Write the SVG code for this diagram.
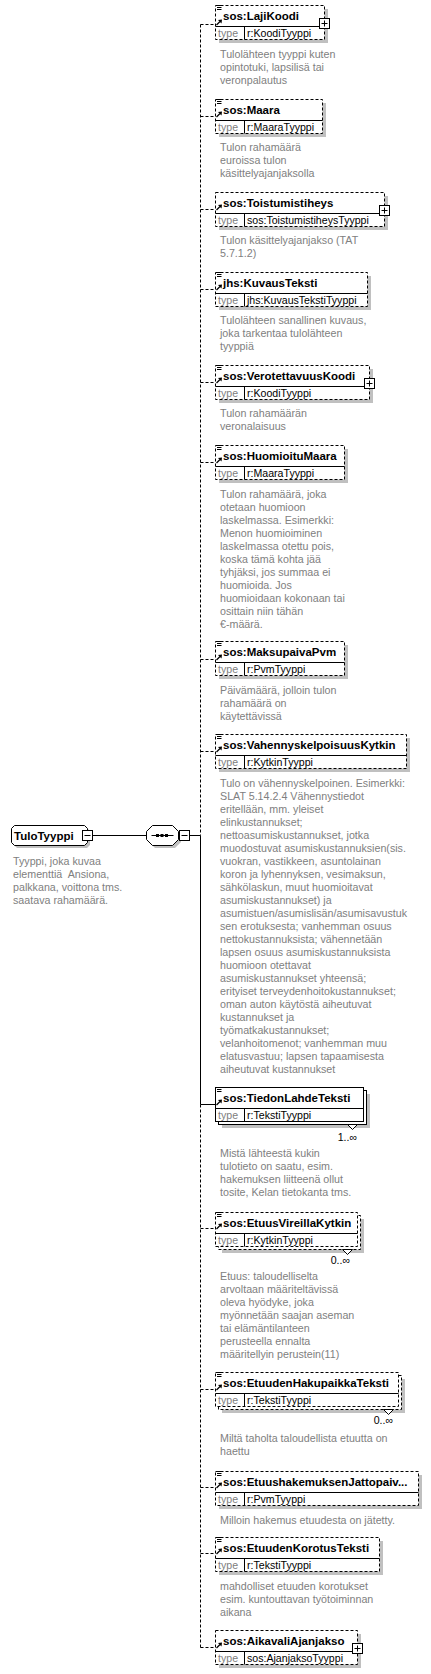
<svg xmlns="http://www.w3.org/2000/svg" width="431" height="1674" viewBox="0 0 431 1674">
<defs>
<style>
.bx{fill:#fff;stroke:#000;stroke-width:1}
.dsh{stroke-dasharray:3 2}
.sh{fill:#c0c0c0}
.ln{fill:none;stroke:#000;stroke-width:1}
.hd{font-family:"Liberation Sans",Arial,sans-serif;font-size:11.5px;font-weight:bold;fill:#000}
.tl{font-family:"Liberation Sans",Arial,sans-serif;font-size:10.6px;fill:#808080}
.tv{font-family:"Liberation Sans",Arial,sans-serif;font-size:10.6px;fill:#000}
.ds{font-family:"Liberation Sans",Arial,sans-serif;font-size:10.7px;fill:#808080}
.ml{font-family:"Liberation Sans",Arial,sans-serif;font-size:10.6px;fill:#000;text-anchor:end}
</style>
<g id="eq"><path d="M2,0.5h4.5M2,2.5h4.5M2,4.5h4.5" stroke="#000" stroke-width="1" fill="none"/></g>
<g id="arr"><path d="M1.5,0.5L5,-3" stroke="#000" stroke-width="1.2" fill="none"/><polygon points="7,-5 3,-4.5 6.5,-1" fill="#000"/></g>
</defs>
<rect width="431" height="1674" fill="#fff"/>

<g id="connectors">
<path class="ln dsh" d="M200.5,24.5V835.5"/>
<path class="ln" d="M200.5,835.5V1104.5"/>
<path class="ln dsh" d="M200.5,1104.5V1647.5"/>
<path class="ln" d="M92.5,835.5H146.5M189.5,835.5H200.5"/>
<path class="ln dsh" d="M200.5,24.5H215M200.5,116.5H215M200.5,209.5H215M200.5,289.5H215M200.5,382.5H215M200.5,462.5H215M200.5,659.5H215M200.5,751.5H215M200.5,1228.5H215M200.5,1389.5H215M200.5,1487.5H215M200.5,1553.5H215M200.5,1647.5H215"/>
<path class="ln" d="M200.5,1104.5H215"/>
</g>

<g id="TuloTyyppi">
<path class="sh" d="M17,828H87L90,831V845L87,848H17L14,845V831Z"/>
<path class="bx" d="M14.5,825.5H84.5L87.5,828.5V842.5L84.5,845.5H14.5L11.5,842.5V828.5Z"/>
<text class="hd" x="14" y="839.5">TuloTyyppi</text>
<rect class="bx" x="82.5" y="830.5" width="10" height="10"/>
<path class="ln" d="M84.5,835.5H90.5"/>
<text class="ds" x="13" y="865" style="white-space:pre"><tspan x="13" y="865">Tyyppi, joka kuvaa</tspan><tspan x="13" y="878">elementtiä  Ansiona,</tspan><tspan x="13" y="891">palkkana, voittona tms.</tspan><tspan x="13" y="904">saatava rahamäärä.</tspan></text>
</g>

<g id="sequence">
<path class="sh" d="M155,828H175L181,834V842L175,848H155L149,842V834Z"/>
<path class="bx" d="M152.5,825.5H172.5L178.5,831.5V839.5L172.5,845.5H152.5L146.5,839.5V831.5Z"/>
<path class="ln" d="M151.5,835.5H173.5"/>
<rect x="156" y="834" width="3" height="3" fill="#000"/>
<rect x="160.5" y="834" width="3" height="3" fill="#000"/>
<rect x="165" y="834" width="3" height="3" fill="#000"/>
<rect class="bx" x="179.5" y="830.5" width="10" height="10"/>
<path class="ln" d="M181.5,835.5H187.5"/>
</g>

<g id="LajiKoodi" transform="translate(215,5)">
<rect class="sh" x="4" y="4" width="109" height="34"/>
<rect class="bx dsh" x="0.5" y="0.5" width="109" height="34"/>
<path class="ln" d="M0.5,21.5H109.5M29.5,21.5V34.5"/>
<use href="#eq"/><use href="#arr" x="0" y="19.5"/>
<text class="hd" x="8" y="14.5">sos:LajiKoodi</text>
<text class="tl" x="3" y="31.5">type</text><text class="tv" x="32" y="31.5">r:KoodiTyyppi</text>
<rect class="bx" x="104.5" y="13.5" width="10" height="10"/><path class="ln" d="M106.5,18.5H112.5M109.5,15.5V21.5"/>
<text class="ds"><tspan x="5" y="53">Tulolähteen tyyppi kuten</tspan><tspan x="5" y="66">opintotuki, lapsilisä tai</tspan><tspan x="5" y="79">veronpalautus</tspan></text>
</g>

<g id="Maara" transform="translate(215,99)">
<rect class="sh" x="4" y="4" width="107" height="34"/>
<rect class="bx dsh" x="0.5" y="0.5" width="107" height="34"/>
<path class="ln" d="M0.5,21.5H107.5M29.5,21.5V34.5"/>
<use href="#eq"/><use href="#arr" x="0" y="17.5"/>
<text class="hd" x="8" y="14.5">sos:Maara</text>
<text class="tl" x="3" y="31.5">type</text><text class="tv" x="32" y="31.5">r:MaaraTyyppi</text>
<text class="ds"><tspan x="5" y="52">Tulon rahamäärä</tspan><tspan x="5" y="65">euroissa tulon</tspan><tspan x="5" y="78">käsittelyajanjaksolla</tspan></text>
</g>

<g id="Toistumistiheys" transform="translate(215,192)">
<rect class="sh" x="4" y="4" width="169" height="34"/>
<rect class="bx dsh" x="0.5" y="0.5" width="169" height="34"/>
<path class="ln" d="M0.5,21.5H169.5M29.5,21.5V34.5"/>
<use href="#arr" x="0" y="17.5"/>
<text class="hd" x="8" y="14.5">sos:Toistumistiheys</text>
<text class="tl" x="3" y="31.5">type</text><text class="tv" x="32" y="31.5">sos:ToistumistiheysTyyppi</text>
<rect class="bx" x="164.5" y="13.5" width="10" height="10"/><path class="ln" d="M166.5,18.5H172.5M169.5,15.5V21.5"/>
<text class="ds"><tspan x="5" y="52">Tulon käsittelyajanjakso (TAT</tspan><tspan x="5" y="65">5.7.1.2)</tspan></text>
</g>

<g id="KuvausTeksti" transform="translate(215,272)">
<rect class="sh" x="4" y="4" width="152" height="34"/>
<rect class="bx dsh" x="0.5" y="0.5" width="152" height="34"/>
<path class="ln" d="M0.5,21.5H152.5M29.5,21.5V34.5"/>
<use href="#eq"/><use href="#arr" x="0" y="17.5"/>
<text class="hd" x="8" y="14.5">jhs:KuvausTeksti</text>
<text class="tl" x="3" y="31.5">type</text><text class="tv" x="32" y="31.5">jhs:KuvausTekstiTyyppi</text>
<text class="ds"><tspan x="5" y="52">Tulolähteen sanallinen kuvaus,</tspan><tspan x="5" y="65">joka tarkentaa tulolähteen</tspan><tspan x="5" y="78">tyyppiä</tspan></text>
</g>

<g id="VerotettavuusKoodi" transform="translate(215,365)">
<rect class="sh" x="4" y="4" width="154" height="34"/>
<rect class="bx dsh" x="0.5" y="0.5" width="154" height="34"/>
<path class="ln" d="M0.5,21.5H154.5M29.5,21.5V34.5"/>
<use href="#eq"/><use href="#arr" x="0" y="17.5"/>
<text class="hd" x="8" y="14.5">sos:VerotettavuusKoodi</text>
<text class="tl" x="3" y="31.5">type</text><text class="tv" x="32" y="31.5">r:KoodiTyyppi</text>
<rect class="bx" x="149.5" y="13.5" width="10" height="10"/><path class="ln" d="M151.5,18.5H157.5M154.5,15.5V21.5"/>
<text class="ds"><tspan x="5" y="52">Tulon rahamäärän</tspan><tspan x="5" y="65">veronalaisuus</tspan></text>
</g>

<g id="HuomioituMaara" transform="translate(215,445)">
<rect class="sh" x="4" y="4" width="129" height="34"/>
<rect class="bx dsh" x="0.5" y="0.5" width="129" height="34"/>
<path class="ln" d="M0.5,21.5H129.5M29.5,21.5V34.5"/>
<use href="#eq"/><use href="#arr" x="0" y="17.5"/>
<text class="hd" x="8" y="14.5">sos:HuomioituMaara</text>
<text class="tl" x="3" y="31.5">type</text><text class="tv" x="32" y="31.5">r:MaaraTyyppi</text>
<text class="ds"><tspan x="5" y="52.5">Tulon rahamäärä, joka</tspan><tspan x="5" y="65.5">otetaan huomioon</tspan><tspan x="5" y="78.5">laskelmassa. Esimerkki:</tspan><tspan x="5" y="91.5">Menon huomioiminen</tspan><tspan x="5" y="104.5">laskelmassa otettu pois,</tspan><tspan x="5" y="117.5">koska tämä kohta jää</tspan><tspan x="5" y="130.5">tyhjäksi, jos summaa ei</tspan><tspan x="5" y="143.5">huomioida. Jos</tspan><tspan x="5" y="156.5">huomioidaan kokonaan tai</tspan><tspan x="5" y="169.5">osittain niin tähän</tspan><tspan x="5" y="182.5">€-määrä.</tspan></text>
</g>

<g id="MaksupaivaPvm" transform="translate(215,641)">
<rect class="sh" x="4" y="4" width="129" height="34"/>
<rect class="bx dsh" x="0.5" y="0.5" width="129" height="34"/>
<path class="ln" d="M0.5,21.5H129.5M29.5,21.5V34.5"/>
<use href="#eq"/><use href="#arr" x="0" y="18.5"/>
<text class="hd" x="8" y="14.5">sos:MaksupaivaPvm</text>
<text class="tl" x="3" y="31.5">type</text><text class="tv" x="32" y="31.5">r:PvmTyyppi</text>
<text class="ds"><tspan x="5" y="52.5">Päivämäärä, jolloin tulon</tspan><tspan x="5" y="65.5">rahamäärä on</tspan><tspan x="5" y="78.5">käytettävissä</tspan></text>
</g>

<g id="VahennyskelpoisuusKytkin" transform="translate(215,734)">
<rect class="sh" x="4" y="4" width="191" height="34"/>
<rect class="bx dsh" x="0.5" y="0.5" width="191" height="34"/>
<path class="ln" d="M0.5,21.5H191.5M29.5,21.5V34.5"/>
<use href="#eq"/><use href="#arr" x="0" y="17.5"/>
<text class="hd" x="8" y="14.5">sos:VahennyskelpoisuusKytkin</text>
<text class="tl" x="3" y="31.5">type</text><text class="tv" x="32" y="31.5">r:KytkinTyyppi</text>
<text class="ds"><tspan x="5" y="52.5">Tulo on vähennyskelpoinen. Esimerkki:</tspan><tspan x="5" y="65.5">SLAT 5.14.2.4 Vähennystiedot</tspan><tspan x="5" y="78.5">eritellään, mm. yleiset</tspan><tspan x="5" y="91.5">elinkustannukset;</tspan><tspan x="5" y="104.5">nettoasumiskustannukset, jotka</tspan><tspan x="5" y="117.5">muodostuvat asumiskustannuksien(sis.</tspan><tspan x="5" y="130.5">vuokran, vastikkeen, asuntolainan</tspan><tspan x="5" y="143.5">koron ja lyhennyksen, vesimaksun,</tspan><tspan x="5" y="156.5">sähkölaskun, muut huomioitavat</tspan><tspan x="5" y="169.5">asumiskustannukset) ja</tspan><tspan x="5" y="182.5">asumistuen/asumislisän/asumisavustuk</tspan><tspan x="5" y="195.5">sen erotuksesta; vanhemman osuus</tspan><tspan x="5" y="208.5">nettokustannuksista; vähennetään</tspan><tspan x="5" y="221.5">lapsen osuus asumiskustannuksista</tspan><tspan x="5" y="234.5">huomioon otettavat</tspan><tspan x="5" y="247.5">asumiskustannukset yhteensä;</tspan><tspan x="5" y="260.5">erityiset terveydenhoitokustannukset;</tspan><tspan x="5" y="273.5">oman auton käytöstä aiheutuvat</tspan><tspan x="5" y="286.5">kustannukset ja</tspan><tspan x="5" y="299.5">työmatkakustannukset;</tspan><tspan x="5" y="312.5">velanhoitomenot; vanhemman muu</tspan><tspan x="5" y="325.5">elatusvastuu; lapsen tapaamisesta</tspan><tspan x="5" y="338.5">aiheutuvat kustannukset</tspan></text>
</g>

<g id="TiedonLahdeTeksti" transform="translate(215,1087)">
<rect class="sh" x="7" y="7" width="148" height="34"/>
<rect class="bx" x="3.5" y="3.5" width="148" height="34"/>
<rect class="bx" x="0.5" y="0.5" width="148" height="34"/>
<path class="ln" d="M0.5,21.5H148.5M29.5,21.5V34.5"/>
<use href="#eq"/><use href="#arr" x="0" y="17.5"/>
<text class="hd" x="8" y="14.5">sos:TiedonLahdeTeksti</text>
<text class="tl" x="3" y="31.5">type</text><text class="tv" x="32" y="31.5">r:TekstiTyyppi</text>
<polygon class="bx" points="132.5,37.5 137.5,42.5 142.5,37.5"/>
<text class="ml" x="142" y="53.5">1..∞</text>
<text class="ds"><tspan x="5" y="69.5">Mistä lähteestä kukin</tspan><tspan x="5" y="82.5">tulotieto on saatu, esim.</tspan><tspan x="5" y="95.5">hakemuksen liitteenä ollut</tspan><tspan x="5" y="108.5">tosite, Kelan tietokanta tms.</tspan></text>
</g>

<g id="EtuusVireillaKytkin" transform="translate(215,1212)">
<rect class="sh" x="7" y="7" width="142" height="34"/>
<rect class="bx dsh" x="3.5" y="3.5" width="142" height="34"/>
<rect class="bx dsh" x="0.5" y="0.5" width="142" height="34"/>
<path class="ln" d="M0.5,21.5H142.5M29.5,21.5V34.5"/>
<use href="#eq"/><use href="#arr" x="0" y="16.5"/>
<text class="hd" x="8" y="14.5">sos:EtuusVireillaKytkin</text>
<text class="tl" x="3" y="31.5">type</text><text class="tv" x="32" y="31.5">r:KytkinTyyppi</text>
<polygon class="bx" points="127.5,37.5 132.5,42.5 137.5,37.5"/>
<text class="ml" x="135" y="51.5">0..∞</text>
<text class="ds"><tspan x="5" y="67.5">Etuus: taloudelliselta</tspan><tspan x="5" y="80.5">arvoltaan määriteltävissä</tspan><tspan x="5" y="93.5">oleva hyödyke, joka</tspan><tspan x="5" y="106.5">myönnetään saajan aseman</tspan><tspan x="5" y="119.5">tai elämäntilanteen</tspan><tspan x="5" y="132.5">perusteella ennalta</tspan><tspan x="5" y="145.5">määritellyin perustein(11)</tspan></text>
</g>

<g id="EtuudenHakupaikkaTeksti" transform="translate(215,1372)">
<rect class="sh" x="7" y="7" width="183" height="34"/>
<rect class="bx dsh" x="3.5" y="3.5" width="183" height="34"/>
<rect class="bx dsh" x="0.5" y="0.5" width="183" height="34"/>
<path class="ln" d="M0.5,21.5H183.5M29.5,21.5V34.5"/>
<use href="#eq"/><use href="#arr" x="0" y="17.5"/>
<text class="hd" x="8" y="14.5">sos:EtuudenHakupaikkaTeksti</text>
<text class="tl" x="3" y="31.5">type</text><text class="tv" x="32" y="31.5">r:TekstiTyyppi</text>
<polygon class="bx" points="168.5,37.5 173.5,42.5 178.5,37.5"/>
<text class="ml" x="178" y="52">0..∞</text>
<text class="ds"><tspan x="5" y="69.5">Miltä taholta taloudellista etuutta on</tspan><tspan x="5" y="82.5">haettu</tspan></text>
</g>

<g id="EtuushakemuksenJattopaiva" transform="translate(215,1471)">
<rect class="sh" x="4" y="4" width="203" height="34"/>
<rect class="bx dsh" x="0.5" y="0.5" width="203" height="34"/>
<path class="ln" d="M0.5,21.5H203.5M29.5,21.5V34.5"/>
<use href="#eq"/><use href="#arr" x="0" y="16.5"/>
<text class="hd" x="8" y="14.5">sos:EtuushakemuksenJattopaiv...</text>
<text class="tl" x="3" y="31.5">type</text><text class="tv" x="32" y="31.5">r:PvmTyyppi</text>
<text class="ds"><tspan x="5" y="52.5">Milloin hakemus etuudesta on jätetty.</tspan></text>
</g>

<g id="EtuudenKorotusTeksti" transform="translate(215,1537)">
<rect class="sh" x="4" y="4" width="164" height="34"/>
<rect class="bx dsh" x="0.5" y="0.5" width="164" height="34"/>
<path class="ln" d="M0.5,21.5H164.5M29.5,21.5V34.5"/>
<use href="#eq"/><use href="#arr" x="0" y="16.5"/>
<text class="hd" x="8" y="14.5">sos:EtuudenKorotusTeksti</text>
<text class="tl" x="3" y="31.5">type</text><text class="tv" x="32" y="31.5">r:TekstiTyyppi</text>
<text class="ds"><tspan x="5" y="52.5">mahdolliset etuuden korotukset</tspan><tspan x="5" y="65.5">esim. kuntouttavan työtoiminnan</tspan><tspan x="5" y="78.5">aikana</tspan></text>
</g>

<g id="AikavaliAjanjakso" transform="translate(215,1630)">
<rect class="sh" x="4" y="4" width="142" height="34"/>
<rect class="bx dsh" x="0.5" y="0.5" width="142" height="34"/>
<path class="ln" d="M0.5,21.5H142.5M29.5,21.5V34.5"/>
<use href="#arr" x="0" y="17.5"/>
<text class="hd" x="8" y="14.5">sos:AikavaliAjanjakso</text>
<text class="tl" x="3" y="31.5">type</text><text class="tv" x="32" y="31.5">sos:AjanjaksoTyyppi</text>
<rect class="bx" x="137.5" y="13.5" width="10" height="10"/><path class="ln" d="M139.5,18.5H145.5M142.5,15.5V21.5"/>
</g>
</svg>
